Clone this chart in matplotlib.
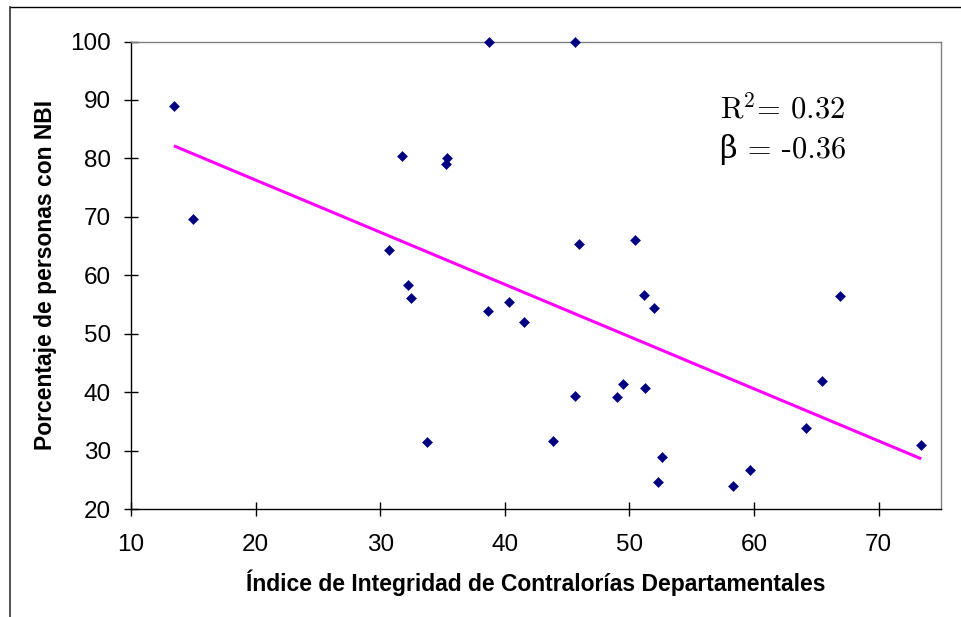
import numpy as np
import matplotlib
matplotlib.use("Agg")
import matplotlib.pyplot as plt
from matplotlib.lines import Line2D

# ---- data ----
integridad = [13.45, 14.98, 38.77, 31.78, 35.38, 35.25, 30.70, 45.67, 45.99, 50.42,
              32.23, 32.47, 33.75, 38.67, 40.30, 41.58, 51.14, 51.94, 49.51, 45.67,
              49.03, 51.25, 43.88, 52.64, 52.32, 58.35, 59.66, 64.20, 65.48, 66.90,
              73.41]
nbi = [88.9, 69.6, 100.0, 80.5, 80.1, 79.0, 64.3, 100.0, 65.3, 66.1,
       58.4, 56.1, 31.5, 53.9, 55.4, 52.1, 56.6, 54.4, 41.4, 39.4,
       39.2, 40.7, 31.7, 29.0, 24.7, 24.0, 26.7, 33.9, 42.0, 56.4,
       31.0]
x_ticks = [10, 20, 30, 40, 50, 60, 70]
y_ticks = [20, 30, 40, 50, 60, 70, 80, 90, 100]
stats_lines = ["R$^{2}$= 0.32", "β = -0.36"]
xlabel = "Índice de Integridad de Contralorías Departamentales"
ylabel = "Porcentaje de personas con NBI"

plt.rcParams['font.family'] = ['Liberation Sans', 'DejaVu Sans']
plt.rcParams['mathtext.fontset'] = 'cm'

W, H = 961, 617
fig = plt.figure(figsize=(W / 100, H / 100), dpi=100)
fig.patch.set_facecolor('white')

# axes placement in pixels
L, R, T, B = 130.9, 941.0, 41.5, 509.3
ax = fig.add_axes([L / W, 1 - B / H, (R - L) / W, (B - T) / H])

x = np.array(integridad)
y = np.array(nbi)

# trend line (least squares)
coef = np.polyfit(x, y, 1)
xs = np.sort(x)
ax.plot(xs, np.polyval(coef, xs), color='#FF00FF', lw=2.2, zorder=3, solid_capstyle='butt')

ax.plot(x, y, linestyle='none', marker='D', markersize=5.5, color='#000080',
        markeredgecolor='#000080', markeredgewidth=0.4, zorder=5, clip_on=False)

ax.set_xlim(10, 75)
ax.set_ylim(20, 100)
ax.set_xticks(x_ticks)
ax.set_yticks(y_ticks)
ax.tick_params(axis='both', direction='inout', length=10, width=1.0, color='black',
               labelsize=17.5, labelcolor='black')
ax.tick_params(axis='y', pad=9.5)
ax.tick_params(axis='x', pad=13)

for s in ['left', 'bottom']:
    ax.spines[s].set_color('black')
    ax.spines[s].set_linewidth(1.0)
for s in ['top', 'right']:
    ax.spines[s].set_color('#808080')
    ax.spines[s].set_linewidth(1.0)

ax.set_xlabel(xlabel, fontsize=16.5, fontweight='bold')
ax.set_ylabel(ylabel, fontsize=16.5, fontweight='bold')
ax.xaxis.set_label_coords(0.5, -(569 - B) / (B - T))
ax.yaxis.set_label_coords((57.5 - L) / (R - L), 0.5)

# statistics annotation
ax.text((720 - L) / (R - L), (B - 118.3) / (B - T), stats_lines[0], transform=ax.transAxes,
        fontsize=22, family=['cmr10', 'DejaVu Serif'], va='baseline', ha='left')
ax.text((720 - L) / (R - L), (B - 158.3) / (B - T), stats_lines[1], transform=ax.transAxes,
        fontsize=22, family=['cmr10', 'DejaVu Serif'], va='baseline', ha='left')

# outer frame (partial border)
fig.add_artist(Line2D([9.7 / W, 1.0], [1 - 7.3 / H, 1 - 7.3 / H], transform=fig.transFigure,
                      color='black', lw=1.0))
fig.add_artist(Line2D([10.0 / W, 10.0 / W], [0.0, 1 - 7.3 / H], transform=fig.transFigure,
                      color='#333333', lw=1.2))

fig.savefig('out.png', dpi=100)
